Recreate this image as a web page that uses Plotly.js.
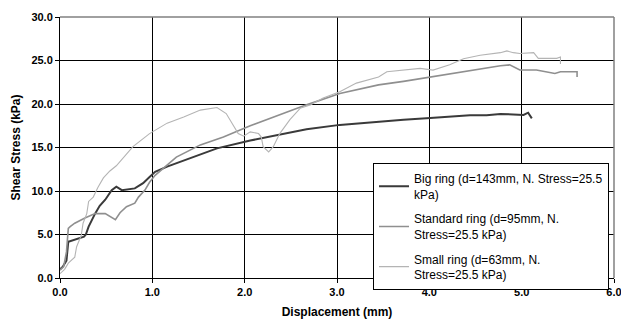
<!DOCTYPE html>
<html>
<head>
<meta charset="utf-8">
<script src="https://cdn.plot.ly/plotly-3.0.1.min.js"></script>
<style>html,body{margin:0;padding:0;background:#fff;}#chart{width:621px;height:329px;}</style>
</head>
<body>
<div id="chart"></div>
<script>
// Big ring (d=143mm)
const bigX = [0.00, 0.03, 0.07, 0.08, 0.09, 0.10, 0.26, 0.28, 0.31, 0.38, 0.43, 0.49, 0.56, 0.61, 0.67, 0.81, 0.90, 0.97, 1.03, 1.16, 1.37, 1.70, 2.06, 2.31, 2.67, 3.03, 3.45, 3.72, 4.01, 4.44, 4.62, 4.77, 5.02, 5.07, 5.11];
const bigY = [1.0, 1.3, 2.0, 3.2, 4.2, 4.2, 4.75, 5.0, 5.9, 7.4, 8.3, 9.0, 10.1, 10.5, 10.1, 10.3, 10.9, 11.6, 12.2, 12.8, 13.6, 14.9, 15.8, 16.3, 17.1, 17.6, 18.0, 18.2, 18.4, 18.7, 18.7, 18.85, 18.75, 19.0, 18.35];
// Standard ring (d=95mm)
const stdX = [0.00, 0.04, 0.07, 0.09, 0.11, 0.16, 0.27, 0.38, 0.49, 0.55, 0.60, 0.65, 0.72, 0.81, 0.85, 0.92, 0.97, 1.03, 1.12, 1.26, 1.52, 1.77, 2.06, 2.31, 2.67, 3.03, 3.45, 3.72, 4.01, 4.44, 4.77, 4.87, 4.98, 5.16, 5.36, 5.42, 5.60, 5.60];
const stdY = [0.9, 1.3, 3.0, 5.7, 5.9, 6.3, 6.9, 7.4, 7.4, 7.0, 6.7, 7.5, 8.2, 8.6, 9.3, 10.1, 11.0, 11.8, 12.6, 13.9, 15.3, 16.2, 17.5, 18.5, 19.9, 21.2, 22.2, 22.6, 23.1, 23.9, 24.4, 24.5, 23.9, 23.9, 23.5, 23.7, 23.7, 23.1];
// Small ring (d=63mm)
const smX = [0.00, 0.05, 0.09, 0.16, 0.18, 0.23, 0.25, 0.29, 0.31, 0.36, 0.41, 0.47, 0.54, 0.61, 0.79, 0.97, 1.16, 1.34, 1.52, 1.70, 1.80, 1.88, 1.93, 1.99, 2.06, 2.15, 2.18, 2.20, 2.26, 2.31, 2.38, 2.49, 2.60, 2.71, 2.85, 3.03, 3.21, 3.45, 3.54, 3.90, 4.04, 4.22, 4.37, 4.55, 4.77, 4.84, 4.91, 4.98, 5.13, 5.18, 5.38, 5.42, 5.42];
const smY = [0.5, 1.0, 1.7, 2.4, 3.6, 4.9, 6.3, 7.4, 8.8, 9.3, 10.4, 11.5, 12.3, 12.9, 15.1, 16.6, 17.8, 18.5, 19.3, 19.6, 18.9, 17.4, 16.6, 16.3, 16.8, 16.6, 16.2, 15.1, 14.5, 15.1, 16.6, 18.2, 19.5, 19.9, 20.7, 21.4, 22.4, 23.1, 23.7, 24.1, 23.9, 24.5, 25.2, 25.6, 25.9, 26.1, 25.9, 25.8, 25.9, 25.25, 25.25, 25.4, 24.6];

const seriesNames = [
  "Big ring (d=143mm, N. Stress=25.5<br>kPa)",
  "Standard ring (d=95mm, N.<br>Stress=25.5 kPa)",
  "Small ring (d=63mm, N.<br>Stress=25.5 kPa)"
];
const xTicks = [0, 1, 2, 3, 4, 5, 6];
const yTicks = [0, 5, 10, 15, 20, 25, 30];

const traces = [
  {x: bigX, y: bigY, name: seriesNames[0], legendgroup: 'g1', mode: 'lines', line: {color: '#3a3a3a', width: 2}},
  {x: stdX, y: stdY, name: seriesNames[1], legendgroup: 'g2', mode: 'lines', line: {color: '#8f8f8f', width: 1.6}},
  {x: smX, y: smY, name: seriesNames[2], legendgroup: 'g3', mode: 'lines', line: {color: '#b4b4b4', width: 1.1}}
];

const tickFont = {family: 'Arial, "Liberation Sans", sans-serif', size: 11, color: '#000', weight: 'bold'};
const layout = {
  width: 621, height: 329,
  margin: {l: 60, r: 7, t: 17, b: 51},
  paper_bgcolor: '#fff', plot_bgcolor: '#fff',
  font: {family: 'Arial, "Liberation Sans", sans-serif', color: '#000'},
  showlegend: true,
  legend: {
    x: 0.991, xanchor: 'right', y: 0.44, yanchor: 'top',
    bgcolor: '#fff', bordercolor: '#000', borderwidth: 1,
    font: {size: 12, color: '#000'}, itemwidth: 30, tracegroupgap: 6
  },
  xaxis: {
    range: [0, 6], tickvals: xTicks, tickformat: '.1f',
    showgrid: true, gridcolor: '#000', gridwidth: 1,
    showline: true, linecolor: '#000', linewidth: 1,
    ticks: 'outside', ticklen: 4, tickcolor: '#000',
    tickfont: tickFont, zeroline: false, ticklabeloverflow: 'allow',
    title: {text: 'Displacement (mm)', font: {size: 12, weight: 'bold', color: '#000'}, standoff: 10}
  },
  yaxis: {
    range: [0, 30], tickvals: yTicks, tickformat: '.1f',
    showgrid: true, gridcolor: '#000', gridwidth: 1,
    showline: true, linecolor: '#000', linewidth: 1,
    ticks: 'outside', ticklen: 4, tickcolor: '#000',
    tickfont: tickFont, zeroline: false,
    title: {text: 'Shear Stress (kPa)', font: {size: 12, weight: 'bold', color: '#000'}, standoff: 8}
  },
  shapes: [
    {type: 'line', xref: 'paper', yref: 'paper', x0: 0, x1: 1, y0: 1, y1: 1, line: {color: '#808080', width: 1.5}, layer: 'above'},
    {type: 'line', xref: 'paper', yref: 'paper', x0: 1, x1: 1, y0: 0, y1: 1, line: {color: '#808080', width: 1.5}, layer: 'above'}
  ]
};

Plotly.newPlot('chart', traces, layout, {staticPlot: true, displayModeBar: false});
</script>
</body>
</html>
